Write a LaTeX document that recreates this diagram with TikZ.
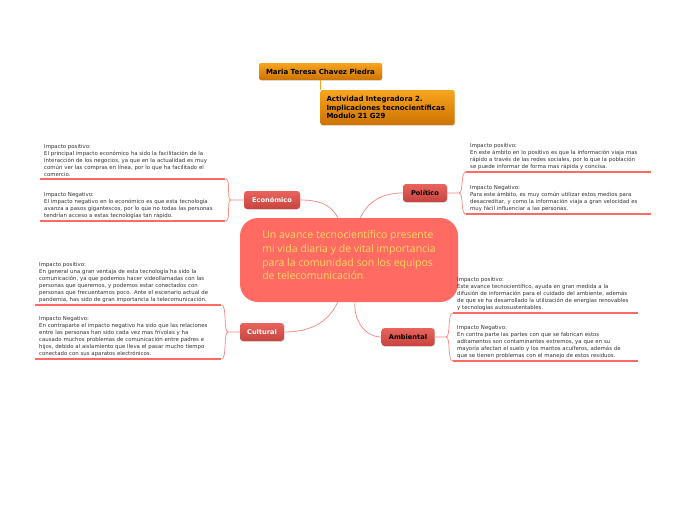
\documentclass[tikz,border=0pt]{standalone}
\usepackage{fontspec}
\setmainfont{DejaVu Sans}
\newfontfamily\titlefont{Open Sans}
\usetikzlibrary{positioning,shadows}

\definecolor{salmon}{HTML}{FF6B63}
\definecolor{linkred}{HTML}{F7867F}
\definecolor{branchtop}{HTML}{EA645D}
\definecolor{branchbot}{HTML}{C6433F}
\definecolor{orangetop}{HTML}{F8A51E}
\definecolor{orangebot}{HTML}{CC7300}
\definecolor{titleyellow}{HTML}{FFD862}

\newcommand{\leaffont}{\fontsize{5.4}{6.9}\selectfont}

\tikzset{
  branch/.style={rounded corners=3pt, top color=branchtop, bottom color=branchbot,
    minimum height=18pt, inner xsep=7pt, font=\fontsize{6.6}{8}\selectfont\bfseries,
    drop shadow={opacity=0.2, shadow xshift=0.6pt, shadow yshift=-0.8pt}},
  topbox/.style={rounded corners=2pt, top color=orangetop, bottom color=orangebot,
    font=\fontsize{7}{8.4}\selectfont\bfseries, inner xsep=6pt,
    drop shadow={opacity=0.2, shadow xshift=0.6pt, shadow yshift=-0.8pt}},
  leaf/.style={anchor=south west, font=\leaffont, text width=#1, align=left,
    inner xsep=4pt, inner ysep=2.5pt, text=black!80},
  leaf/.default=177pt,
  link/.style={draw=linkred, line width=0.7pt},
  leafline/.style={draw=salmon, line width=2.6pt},
}

\begin{document}
\begin{tikzpicture}[x=1pt, y=-1pt]
    \fill[white] (0,0) rectangle (697,520);
    \useasboundingbox (0,0) rectangle (697,520);

    \node[topbox, minimum width=123pt, minimum height=17pt] (maria) at (320.5,71.5) {Maria Teresa Chavez Piedra};
    \node[topbox, text width=122pt, align=left, minimum height=35pt] (actividad) at (387.5,107.5)
        {Actividad Integradora 2.\\Implicaciones tecnocientíficas\\Modulo 21 G29};
    \draw[draw=orangetop, line width=1pt] (maria.south) -- (maria.south |- actividad.north);

    \node[fill=salmon, rounded corners=18pt, text=titleyellow, minimum height=84pt,
        minimum width=218pt, align=left,
        font=\titlefont\fontsize{10.5}{13.8}\selectfont] (centre) at (349,260)
        {Un avance tecnocientífico presente\\mi vida diaria y de vital importancia\\para la comunidad son los equipos\\de telecomunicación\\[-4pt]\mbox{}};

    \node[branch, text=white, minimum width=56pt] (econ) at (272,200) {Económico};
    \node[branch, text=black, minimum width=44pt] (polit) at (425,193) {Político};
    \node[branch, text=white, minimum width=44pt] (cult) at (262,332) {Cultural};
    \node[branch, text=black, minimum width=53pt] (amb) at (408,337) {Ambiental};

    \node[leaf] (econpos) at (40,179) {Impacto positivo:\\El principal impacto económico ha sido la facilitación de la\\interacción de los negocios, ya que en la actualidad es muy\\común ver las compras en línea, por lo que ha facilitado el\\comercio.};
    \node[leaf] (econneg) at (40,221) {Impacto Negativo:\\El impacto negativo en lo económico es que esta tecnología\\avanza a pasos gigantescos, por lo que no todas las personas\\tendrían acceso a estas tecnologías tan rápido.};
    \node[leaf] (polpos) at (466,172) {Impacto positivo:\\En este ámbito en lo positivo es que la información viaja mas\\rápido a través de las redes sociales, por lo que la población\\se puede informar de forma mas rápida y concisa.};
    \node[leaf] (polneg) at (466,214) {Impacto Negativo:\\Para este ámbito, es muy común utilizar estos medios para\\desacreditar, y como la información viaja a gran velocidad es\\muy fácil influenciar a las personas.};
    \node[leaf=178pt] (cultpos) at (35,305) {Impacto positivo:\\En general una gran ventaja de esta tecnología ha sido la\\comunicación, ya que podemos hacer videollamadas con las\\personas que queremos, y podemos estar conectados con\\personas que frecuentamos poco. Ante el escenario actual de\\pandemia, has sido de gran importancia la telecomunicación.};
    \node[leaf=178pt] (cultneg) at (35,359) {Impacto Negativo:\\En contraparte el impacto negativo ha sido que las relaciones\\entre las personas han sido cada vez mas frívolas y ha\\causado muchos problemas de comunicación entre padres e\\hijos, debido al aislamiento que lleva el pasar mucho tiempo\\conectado con sus aparatos electrónicos.};
    \node[leaf] (ambpos) at (453,313) {Impacto positivo:\\Este avance tecnocientífico, ayuda en gran medida a la\\difusión de información para el cuidado del ambiente, además\\de que se ha desarrollado la utilización de energías renovables\\y tecnologías autosustentables.};
    \node[leaf] (ambneg) at (453,361) {Impacto Negativo:\\En contra parte las partes con que se fabrican estos\\aditamentos son contaminantes extremos, ya que en su\\mayoría afectan el suelo y los mantos acuíferos, además de\\que se tienen problemas con el manejo de estos residuos.};

    \foreach \n in {econpos,econneg,polpos,polneg,cultpos,cultneg,ambpos,ambneg}
        \draw[leafline] (\n.south west) -- (\n.south east);

    \coordinate (econfork) at (231,200);
    \coordinate (polfork) at (459,193);
    \coordinate (cultfork) at (228,332);
    \coordinate (ambfork) at (446,337);

    \draw[link] (econ.east) to[out=0, in=115] (centre.105);
    \draw[link] (polit.west) to[out=180, in=65] (centre.75);
    \draw[link] (cult.east) to[out=0, in=-115] (centre.255);
    \draw[link] (amb.west) to[out=180, in=-95] (centre.278);

    \draw[link] (econ.west) -- (econfork) .. controls +(-5,0) and +(6,0) .. (econpos.south east);
    \draw[link] (econfork) .. controls +(-5,0) and +(6,0) .. (econneg.south east);
    \draw[link] (polit.east) -- (polfork) .. controls +(5,0) and +(-6,0) .. (polpos.south west);
    \draw[link] (polfork) .. controls +(5,0) and +(-6,0) .. (polneg.south west);
    \draw[link] (cult.west) -- (cultfork) .. controls +(-5,0) and +(6,0) .. (cultpos.south east);
    \draw[link] (cultfork) .. controls +(-5,0) and +(6,0) .. (cultneg.south east);
    \draw[link] (amb.east) -- (ambfork) .. controls +(5,0) and +(-6,0) .. (ambpos.south west);
    \draw[link] (ambfork) .. controls +(5,0) and +(-6,0) .. (ambneg.south west);
\end{tikzpicture}
\end{document}
